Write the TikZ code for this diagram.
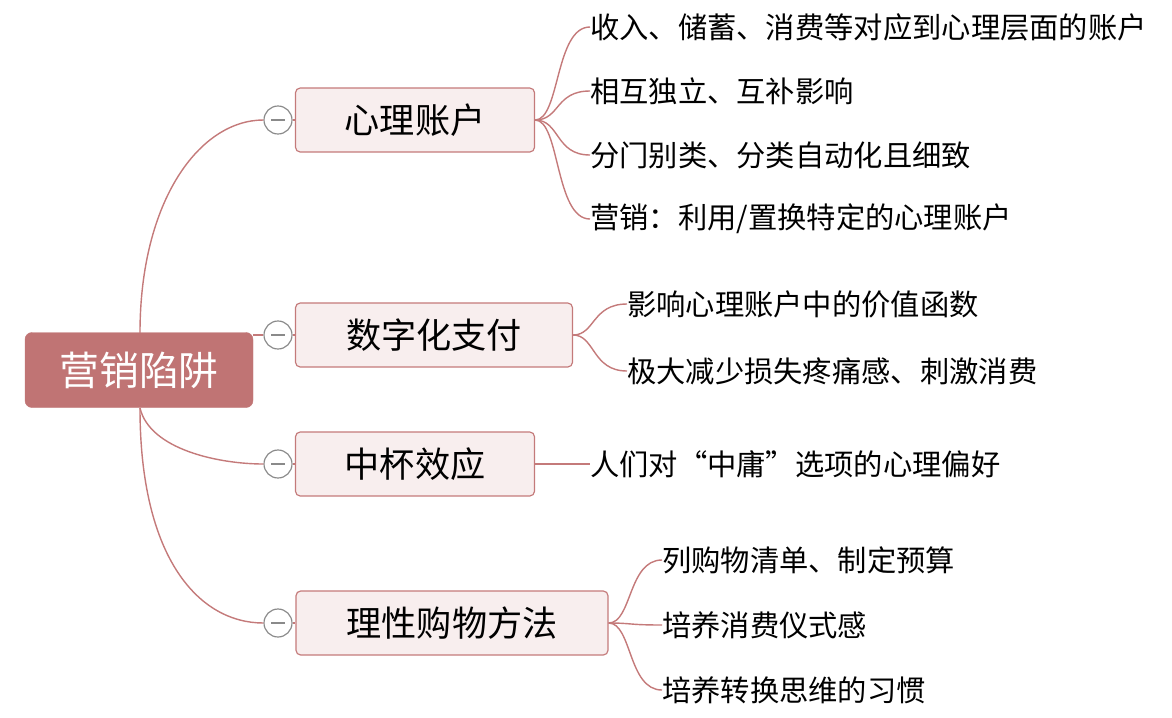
\documentclass[tikz,border=0pt]{standalone}
\usepackage{xcolor}
\usepackage{fontspec}
\setmainfont{Noto Sans CJK SC}
\usetikzlibrary{positioning,calc}
\definecolor{rootred}{HTML}{C07474}
\definecolor{boxpink}{HTML}{F8EEEE}
\definecolor{linkred}{HTML}{C47A7A}
\definecolor{knobgray}{HTML}{8A8A8A}
\tikzset{
  rootbox/.style={draw=rootred,fill=rootred,rounded corners=6pt,text=white,
    minimum width=228*0.03cm,minimum height=75*0.03cm,font=\fontsize{34}{38}\selectfont},
  topicbox/.style={draw=linkred,fill=boxpink,rounded corners=4pt,line width=1pt,
    minimum height=64*0.03cm,font=\fontsize{30}{34}\selectfont},
  leaf/.style={anchor=west,inner sep=0pt,font=\fontsize{25}{29}\selectfont},
  link/.style={draw=linkred,line width=1.2pt},
  knob/.style={circle,draw=knobgray,fill=white,line width=1pt,minimum size=28*0.03cm,inner sep=0pt}
}
\begin{document}
\begin{tikzpicture}[x=0.03cm,y=-0.03cm]
    \useasboundingbox (0,0) rectangle (1172,717);
    \node [rootbox] (root) at (139,370) {营销陷阱};

    \node [topicbox,minimum width=239*0.03cm] (acct) at (415,120) {心理账户};
    \node [topicbox,minimum width=277*0.03cm] (pay) at (434,335) {数字化支付};
    \node [topicbox,minimum width=239*0.03cm] (cup) at (415,464) {中杯效应};
    \node [topicbox,minimum width=312*0.03cm] (shop) at (452,623) {理性购物方法};

    % main branches
    \foreach \t/\y in {acct/120,pay/335,cup/464,shop/623} {
      \node [knob] (k\t) at (278,\y) {};
      \draw [knobgray,line width=1pt] ($(k\t)+(-7,0)$) -- ($(k\t)+(7,0)$);
      \draw [link] (k\t.east) -- (\t.west);
    }
    \draw [link] (140,333) .. controls (140,200) and (200,120) .. (kacct.west);
    \draw [link] (root.east |- kpay) -- (kpay.west);
    \draw [link] (140,408) .. controls (150,450) and (220,464) .. (kcup.west);
    \draw [link] (140,408) .. controls (140,560) and (200,623) .. (kshop.west);

    % leaves
    \foreach \y/\txt [count=\i] in {27/收入、储蓄、消费等对应到心理层面的账户,91/相互独立、互补影响,
        155/分门别类、分类自动化且细致,219/{营销：利用/置换特定的心理账户}} {
      \node [leaf] (a\i) at (590,\y) {\txt};
      \draw [link] (acct.east) .. controls (560,120) and (555,\y) .. (a\i.west);
    }
    \foreach \y/\txt [count=\i] in {304/影响心理账户中的价值函数,371/极大减少损失疼痛感、刺激消费} {
      \node [leaf] (p\i) at (627,\y) {\txt};
      \draw [link] (pay.east) .. controls (595,335) and (592,\y) .. (p\i.west);
    }
    \node [leaf] (c1) at (590,464) {人们对“中庸”选项的心理偏好};
    \draw [link] (cup.east) -- (c1.west);
    \foreach \y/\txt [count=\i] in {560/列购物清单、制定预算,625/培养消费仪式感,690/培养转换思维的习惯} {
      \node [leaf] (s\i) at (662,\y) {\txt};
      \draw [link] (shop.east) .. controls (632,623) and (628,\y) .. (s\i.west);
    }
\end{tikzpicture}
\end{document}
